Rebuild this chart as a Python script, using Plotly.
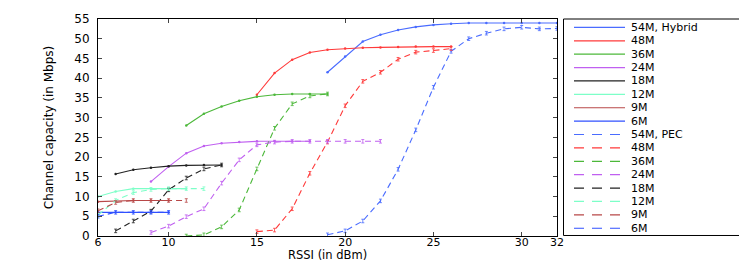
import plotly.graph_objects as go

# ---------------- data ----------------
labels_hyb = ["54M, Hybrid", "48M", "36M", "24M", "18M", "12M", "9M", "6M"]
labels_pec = ["54M, PEC", "48M", "36M", "24M", "18M", "12M", "9M", "6M"]
colors = ["#4a6cff", "#ff3a3a", "#4cb83a", "#c060f0", "#222222", "#7dffc8", "#b84848", "#3050ff"]

hyb54_x = [19, 20, 21, 22, 23, 24, 25, 26, 27, 28, 29, 30, 31, 32]
hyb54_y = [41.5, 45.5, 49.3, 51.0, 52.2, 53.0, 53.5, 53.8, 54.0, 54.0, 54.0, 54.0, 54.0, 54.0]
hyb48_x = [15, 16, 17, 18, 19, 20, 21, 22, 23, 24, 25, 26]
hyb48_y = [35.8, 41.3, 44.7, 46.5, 47.2, 47.5, 47.7, 47.8, 47.9, 48.0, 48.0, 48.0]
hyb36_x = [11, 12, 13, 14, 15, 16, 17, 18, 19]
hyb36_y = [28.0, 31.0, 32.8, 34.3, 35.3, 35.8, 36.0, 36.0, 36.0]
hyb24_x = [9, 10, 11, 12, 13, 14, 15, 16, 17, 18]
hyb24_y = [13.8, 17.6, 21.0, 22.8, 23.5, 23.8, 24.0, 24.0, 24.0, 24.0]
hyb18_x = [7, 8, 9, 10, 11, 12, 13]
hyb18_y = [15.7, 16.8, 17.3, 17.7, 17.9, 18.0, 18.0]
hyb12_x = [6, 7, 8, 9, 10, 11]
hyb12_y = [10.0, 11.3, 12.0, 12.0, 12.0, 12.0]
hyb9_x = [6, 7, 8, 9, 10]
hyb9_y = [8.7, 8.9, 9.0, 9.0, 9.0]
hyb6_x = [6, 7, 8, 9, 10]
hyb6_y = [6.0, 6.0, 6.0, 6.0, 6.0]

pec54_x = [19, 20, 21, 22, 23, 24, 25, 26, 27, 28, 29, 30, 31, 32]
pec54_y = [0.3, 1.3, 3.8, 8.9, 16.9, 26.9, 37.7, 46.8, 50.0, 51.4, 52.5, 52.9, 52.5, 52.6]
pec48_x = [15, 16, 17, 18, 19, 20, 21, 22, 23, 24, 25, 26]
pec48_y = [1.1, 1.5, 6.9, 15.9, 23.8, 33.0, 39.2, 41.5, 44.8, 46.6, 47.0, 47.5]
pec36_x = [11, 12, 13, 14, 15, 16, 17, 18, 19]
pec36_y = [0.0, 0.3, 2.3, 6.6, 17.0, 27.3, 33.5, 35.5, 36.0]
pec24_x = [9, 10, 11, 12, 13, 14, 15, 16, 17, 18, 19, 20, 21, 22]
pec24_y = [0.9, 2.5, 4.9, 6.9, 13.4, 19.3, 23.1, 23.8, 24.0, 24.0, 24.0, 24.0, 24.0, 24.0]
pec18_x = [7, 8, 9, 10, 11, 12, 13]
pec18_y = [1.3, 3.8, 6.3, 11.7, 14.7, 17.0, 18.0]
pec12_x = [6, 7, 8, 9, 10, 11, 12]
pec12_y = [5.3, 9.0, 11.0, 11.8, 12.0, 12.0, 12.0]
pec9_x = [6, 7, 8, 9, 10, 11]
pec9_y = [6.4, 8.5, 9.0, 9.0, 9.0, 9.0]
pec6_x = [6, 7, 8, 9, 10]
pec6_y = [5.0, 6.0, 6.0, 6.0, 6.0]

x_ticks = [6, 10, 15, 20, 25, 30, 32]
y_ticks = [0, 5, 10, 15, 20, 25, 30, 35, 40, 45, 50, 55]

hyb = [(hyb54_x, hyb54_y), (hyb48_x, hyb48_y), (hyb36_x, hyb36_y), (hyb24_x, hyb24_y),
       (hyb18_x, hyb18_y), (hyb12_x, hyb12_y), (hyb9_x, hyb9_y), (hyb6_x, hyb6_y)]
pec = [(pec54_x, pec54_y), (pec48_x, pec48_y), (pec36_x, pec36_y), (pec24_x, pec24_y),
       (pec18_x, pec18_y), (pec12_x, pec12_y), (pec9_x, pec9_y), (pec6_x, pec6_y)]

FONT = "DejaVu Sans"
fig = go.Figure()

for (xs, ys), c, name in zip(hyb, colors, labels_hyb):
    fig.add_trace(go.Scatter(x=xs, y=ys, mode="lines+markers", name=name,
                             line=dict(color=c, width=1.1),
                             marker=dict(color=c, size=2.5), showlegend=False))
for (xs, ys), c, name in zip(pec, colors, labels_pec):
    fig.add_trace(go.Scatter(x=xs, y=ys, mode="lines", name=name,
                             line=dict(color=c, width=1.1, dash="6px,4px"),
                             error_y=dict(type="constant", value=0.45, color=c,
                                          thickness=0.8, width=1.5),
                             showlegend=False))

# page body has an 8px margin: figure is drawn offset by 8px, so size it to fit
OFF = 8
FIG_W, FIG_H = 747 - OFF, 262 - OFF
# desired plot-area edges in screen pixels
L, R, T, B = 98.0, 557.0, 19.3, 236.0
W, H = R - L, B - T
def px(x):
    return (x - L) / W
def py(y):
    return (B - y) / H

shapes = [dict(type="rect", xref="paper", yref="paper",
               x0=px(563.5), x1=px(745), y0=py(19.3), y1=py(235.5),
               line=dict(color="black", width=1), fillcolor="white", layer="below")]
annotations = []
all_labels = labels_hyb + labels_pec
for i, lab in enumerate(all_labels):
    yc = 27.7 + 13.37 * i
    c = colors[i % 8]
    dash = "solid" if i < 8 else "10px,8px"
    shapes.append(dict(type="line", xref="paper", yref="paper",
                       x0=px(574), x1=px(625), y0=py(yc), y1=py(yc),
                       line=dict(color=c, width=1.2, dash=dash)))
    annotations.append(dict(xref="paper", yref="paper", x=px(630), y=py(yc),
                            text=lab, showarrow=False, xanchor="left", yanchor="middle",
                            borderpad=0,
                            font=dict(family=FONT, size=11, color="black")))

annotations.append(dict(xref="paper", yref="paper", x=0.5, y=py(255),
                        text="RSSI (in dBm)", showarrow=False, xanchor="center",
                        yanchor="middle", borderpad=0,
                        font=dict(family=FONT, size=11.5, color="black")))

fig.update_layout(
    width=FIG_W, height=FIG_H,
    margin=dict(l=L - OFF, r=FIG_W - (R - OFF), t=T - OFF, b=FIG_H - (B - OFF), autoexpand=False),
    paper_bgcolor="white", plot_bgcolor="white",
    font=dict(family=FONT, color="black"),
    shapes=shapes, annotations=annotations,
    showlegend=False,
)
fig.update_xaxes(range=[6, 32], tickvals=x_ticks, ticktext=[str(v) for v in x_ticks],
                 ticks="inside", ticklen=4, mirror="ticks", showline=True,
                 linecolor="black", linewidth=1, showgrid=False, zeroline=False,
                 ticklabelstandoff=-4,
                 tickfont=dict(size=11, family=FONT))
fig.update_yaxes(range=[0, 55], tickvals=y_ticks,
                 ticks="inside", ticklen=4, mirror="ticks", showline=True,
                 linecolor="black", linewidth=1, showgrid=False, zeroline=False,
                 ticklabelstandoff=5,
                 tickfont=dict(size=12, family=FONT),
                 title=dict(text="Channel capacity (in Mbps)", font=dict(size=12, family=FONT), standoff=18))

fig.write_html("out.html")
